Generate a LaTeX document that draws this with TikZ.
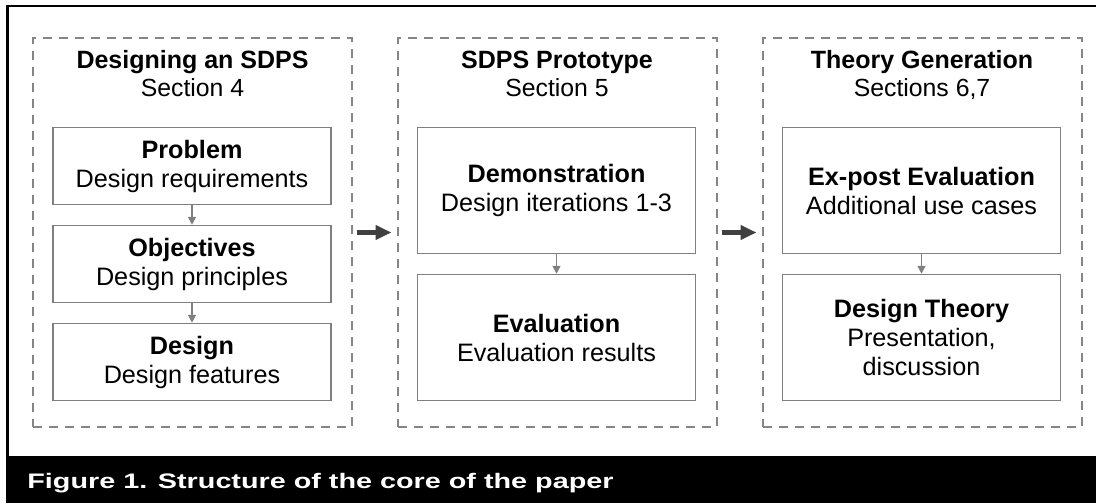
\documentclass[tikz,border=0pt]{standalone}
\usepackage{fontspec}
\usepackage{graphicx}
\setmainfont{Liberation Sans}
\usetikzlibrary{arrows.meta}
\definecolor{dgray}{HTML}{858585}
\definecolor{bgray}{HTML}{808080}
\definecolor{agray}{HTML}{404040}
\begin{document}
\begin{tikzpicture}[x=0.5pt,y=-0.5pt,
  phase/.style={draw=dgray, line width=1pt, dash pattern=on 4.5pt off 3.5pt,
    minimum width=159.5pt, minimum height=194.5pt, inner sep=0pt},
  stepbox/.style={draw=bgray, line width=0.75pt, minimum width=139pt, align=center,
    inner sep=0pt, font=\fontsize{12.6}{14.5}\selectfont},
  ttl/.style={anchor=base, inner sep=0pt, font=\fontsize{12.5}{14}\selectfont\bfseries},
  sub/.style={anchor=base, inner sep=0pt, font=\fontsize{12.4}{14}\selectfont},
  flow/.style={draw=bgray, line width=0.75pt, -{Triangle[length=4pt,width=4pt]}},
  bigflow/.style={draw=agray, line width=2.25pt, -{Triangle[length=8pt,width=7pt]},
    shorten <=2pt, shorten >=2.5pt}]
\useasboundingbox (0,0) rectangle (1096,503);
% frame and caption band
\fill[black] (6,456) rectangle (1096,503);
\draw[line width=1.25pt] (7.5,457) -- (7.5,6) -- (1096,6);
\node[anchor=base west, text=white, inner sep=0pt,
  font=\fontsize{10.5}{12}\selectfont\bfseries] (cap) at (27,488)
  {\scalebox{1.37}[1]{Figure 1. Structure of the core of the paper}};
% phases
\node[phase] (P1) at (192.5,232.5) {};
\node[phase] (P2) at (557,232.5) {};
\node[phase] (P3) at (922,232.5) {};
\node[ttl] (t1) at (192.5,68) {Designing an SDPS};
\node[sub] (s1) at (192.5,96) {Section 4};
\node[ttl] (t2) at (557,68) {SDPS Prototype};
\node[sub] (s2) at (557,96) {Section 5};
\node[ttl] (t3) at (922,68) {Theory Generation};
\node[sub] (s3) at (922,96) {Sections 6,7};
% left column
\node[stepbox, minimum height=38.5pt] (prob) at (192,166) {\textbf{Problem}\\Design requirements};
\node[stepbox, minimum height=38.5pt] (obj) at (192,264) {\textbf{Objectives}\\Design principles};
\node[stepbox, minimum height=38.5pt] (des) at (192,362) {\textbf{Design}\\Design features};
% middle column
\node[stepbox, minimum height=63pt] (demo) at (556.5,190.5) {\textbf{Demonstration}\\Design iterations 1-3};
\node[stepbox, minimum height=63pt] (eval) at (556.5,337.5) {\textbf{Evaluation}\\Evaluation results};
% right column
\node[stepbox, minimum height=63pt] (expost) at (921.5,190.5) {\textbf{Ex-post Evaluation}\\Additional use cases};
\node[stepbox, minimum height=63pt] (theory) at (921.5,337.5) {\textbf{Design Theory}\\Presentation,\\discussion};
% connectors
\draw[flow] (prob.south) -- (obj.north);
\draw[flow] (obj.south) -- (des.north);
\draw[flow] (demo.south) -- (eval.north);
\draw[flow] (expost.south) -- (theory.north);
\draw[bigflow] (P1.east) -- (P2.west);
\draw[bigflow] (P2.east) -- (P3.west);
\end{tikzpicture}
\end{document}
